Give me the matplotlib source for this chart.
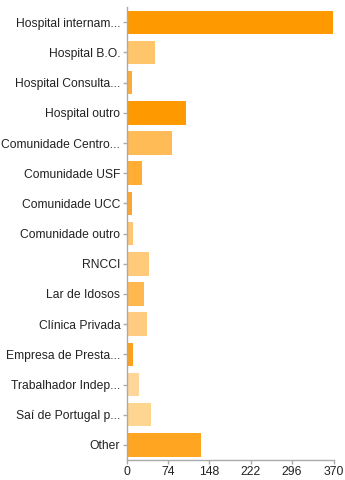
import matplotlib
matplotlib.use('Agg')
import matplotlib.pyplot as plt
import numpy as np

plt.rcParams['font.family'] = ['Liberation Sans', 'DejaVu Sans']

categories = ['Hospital internam...', 'Hospital B.O.', 'Hospital Consulta...', 'Hospital outro',
              'Comunidade Centro...', 'Comunidade USF', 'Comunidade UCC', 'Comunidade outro',
              'RNCCI', 'Lar de Idosos', 'Clínica Privada', 'Empresa de Presta...',
              'Trabalhador Indep...', 'Saí de Portugal p...', 'Other']
values = [369, 51, 9, 106, 81, 27, 10, 12, 41, 31, 36, 12, 22, 44, 134]
colors = ['#ff9900', '#ffc56b', '#ffaa33', '#ff9900', '#ffbb55', '#ffad33', '#ffa52a', '#ffc672',
          '#ffcb7a', '#ffb84e', '#ffcb80', '#ffa01a', '#ffd69a', '#ffd592', '#ffa521']
xticks = [0, 74, 148, 222, 296, 370]

fig = plt.figure(figsize=(3.45, 4.8), dpi=100)
ax = fig.add_axes([0.3667, 0.0417, 0.6, 0.9433])

y = np.arange(len(categories))
ax.barh(y, values, height=0.78, color=colors)
ax.set_ylim(len(categories) - 0.5, -0.5)
ax.set_xlim(0, 370)
ax.set_yticks(y)
ax.set_yticklabels(categories, fontsize=8.7, color='#222222')
ax.set_xticks(xticks)
ax.set_xticklabels([str(t) for t in xticks], fontsize=8.8, color='#222222')

for s in ['top', 'right']:
    ax.spines[s].set_visible(False)
for s in ['left', 'bottom']:
    ax.spines[s].set_color('#aaaaaa')
    ax.spines[s].set_linewidth(1)
ax.tick_params(axis='both', colors='#aaaaaa', labelcolor='#222222', length=3, width=1, pad=1.5)

fig.savefig('out.png', dpi=100)
